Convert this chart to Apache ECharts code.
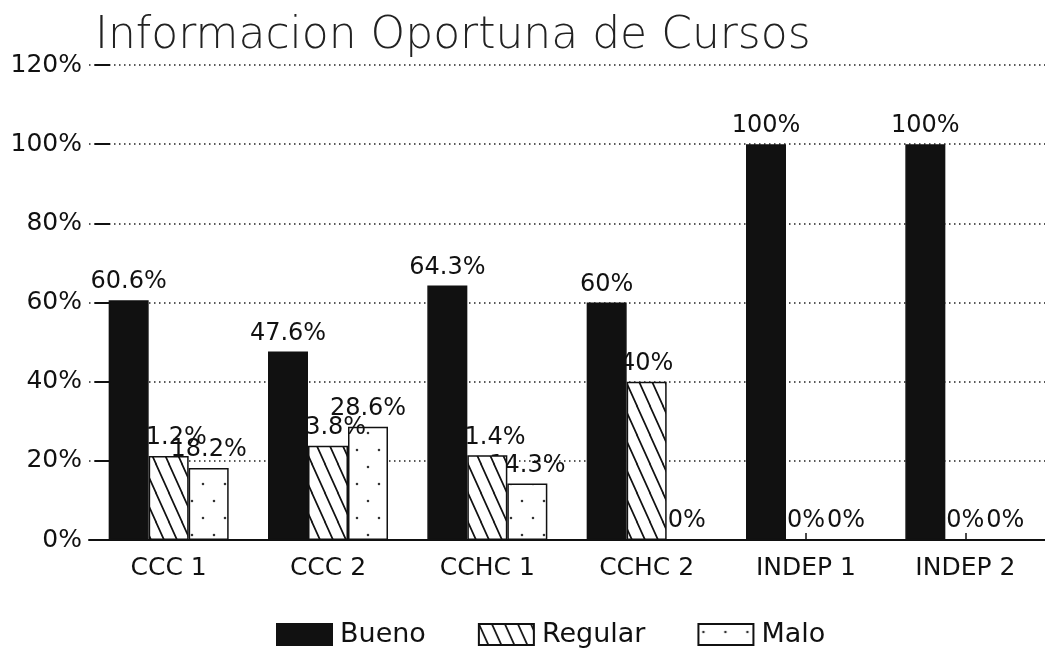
<!DOCTYPE html>
<html lang="es">
<head>
    <meta charset="UTF-8">
    <title>Informacion Oportuna de Cursos</title>
    <script type="text/javascript" src="https://cdn.jsdelivr.net/npm/echarts@6/dist/echarts.min.js"></script>
    <style>
        html, body {margin: 0; padding: 0; background: #fff;}
        #chart {width: 1045px; height: 653px;}
    </style>
</head>
<body>
<div id="chart"></div>
<script>
    // datos
    var categorias = ['CCC 1', 'CCC 2', 'CCHC 1', 'CCHC 2', 'INDEP 1', 'INDEP 2'];
    var bueno = [60.6, 47.6, 64.3, 60, 100, 100];
    var regular = [21.2, 23.8, 21.4, 40, 0, 0];
    var malo = [18.2, 28.6, 14.3, 0, 0, 0];
    var ticksY = [0, 20, 40, 60, 80, 100, 120];

    var fuente = 'DejaVu Sans';
    var negro = '#111';

    // trama de rayas diagonales (Regular)
    function rayas() {
        var c = document.createElement('canvas');
        c.width = 13; c.height = 29;
        var ctx = c.getContext('2d');
        ctx.fillStyle = '#fff';
        ctx.fillRect(0, 0, 13, 29);
        ctx.strokeStyle = negro;
        ctx.lineWidth = 1.8;
        ctx.beginPath();
        ctx.moveTo(-1, -2); ctx.lineTo(14, 31);
        ctx.moveTo(-14, -2); ctx.lineTo(1, 31);
        ctx.moveTo(12, -2); ctx.lineTo(27, 31);
        ctx.stroke();
        return c;
    }
    // trama de puntos (Malo)
    function puntos() {
        var c = document.createElement('canvas');
        c.width = 22; c.height = 34;
        var ctx = c.getContext('2d');
        ctx.fillStyle = '#fff';
        ctx.fillRect(0, 0, 22, 34);
        ctx.fillStyle = '#333';
        ctx.beginPath();
        ctx.arc(5, 8, 1.3, 0, Math.PI * 2);
        ctx.arc(16, 25, 1.3, 0, Math.PI * 2);
        ctx.fill();
        return c;
    }

    var etiqueta = {
        show: true,
        position: 'top',
        distance: 6,
        formatter: '{c}%',
        fontFamily: fuente,
        fontSize: 24,
        color: negro
    };

    var chart = echarts.init(document.getElementById('chart'), null, {renderer: 'canvas'});
    chart.setOption({
        backgroundColor: '#fff',
        animation: false,
        title: {
            text: 'Informacion Oportuna de Cursos',
            left: 90,
            top: 10,
            textStyle: {
                fontFamily: fuente,
                fontSize: 44,
                lineHeight: 44,
                fontWeight: 200,
                color: '#222'
            }
        },
        legend: {
            data: ['Bueno', 'Regular', 'Malo'],
            left: 271,
            top: 616,
            itemWidth: 55,
            itemHeight: 21,
            itemGap: 52,
            icon: 'rect',
            textStyle: {
                fontFamily: fuente,
                fontSize: 27,
                color: negro,
                padding: [0, 0, 0, 3]
            }
        },
        grid: {
            left: 89,
            top: 65,
            width: 963,
            bottom: 113,
            containLabel: false
        },
        xAxis: {
            type: 'category',
            data: categorias,
            axisLine: {lineStyle: {color: negro, width: 2}},
            axisTick: {show: true, inside: true, alignWithLabel: true, length: 7, lineStyle: {color: negro, width: 1.5}},
            axisLabel: {
                margin: 16,
                fontFamily: fuente,
                fontSize: 25,
                color: negro
            }
        },
        yAxis: {
            type: 'value',
            min: 0,
            max: 120,
            interval: 20,
            offset: -6,
            axisLine: {show: false},
            axisTick: {show: true, inside: true, length: 15, lineStyle: {color: negro, width: 2}},
            axisLabel: {
                margin: 13,
                fontFamily: fuente,
                fontSize: 25,
                color: negro,
                formatter: function (v) {
                    return ticksY.indexOf(v) >= 0 ? v + '%' : '';
                }
            },
            splitLine: {
                show: true,
                lineStyle: {color: '#222', width: 1.5, type: [1.5, 3.5]}
            }
        },
        series: [
            {
                name: 'Bueno',
                type: 'bar',
                data: bueno,
                barWidth: 40,
                barGap: '0%',
                z: 4,
                itemStyle: {color: negro, borderColor: negro, borderWidth: 1.5},
                label: etiqueta
            },
            {
                name: 'Regular',
                type: 'bar',
                data: regular,
                barWidth: 40,
                barGap: '0%',
                z: 3,
                itemStyle: {color: {image: rayas(), repeat: 'repeat'}, borderColor: negro, borderWidth: 1.5},
                label: etiqueta
            },
            {
                name: 'Malo',
                type: 'bar',
                data: malo,
                barWidth: 40,
                barGap: '0%',
                z: 2,
                itemStyle: {color: {image: puntos(), repeat: 'repeat'}, borderColor: negro, borderWidth: 1.5},
                label: etiqueta
            }
        ]
    });
</script>
</body>
</html>
